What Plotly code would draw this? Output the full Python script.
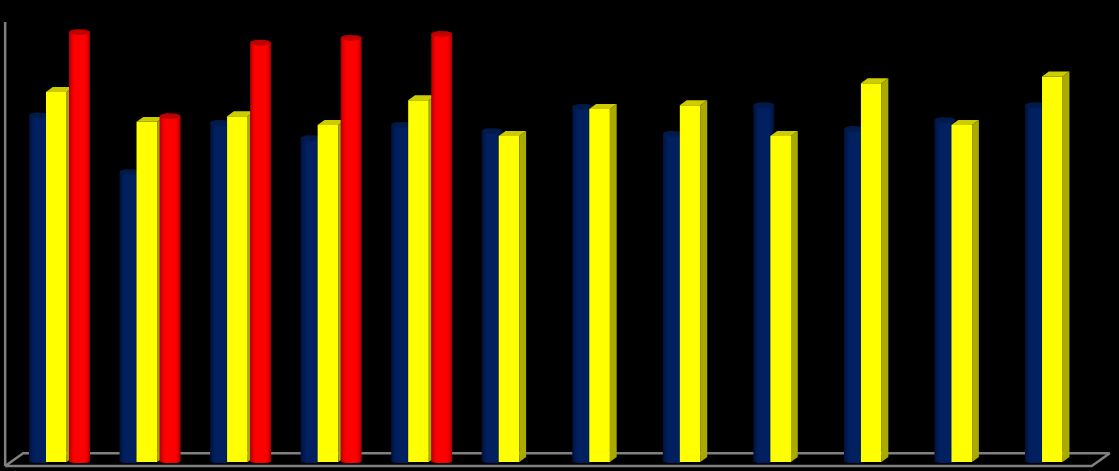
"""
Grouped 3D-look columns on a black background: navy and red cylinders,
yellow boxes, standing on a grey floor.
"""
import numpy as np
import plotly.graph_objects as go

GROUPS = list(range(12))
NAVY_VALUES = [78.8, 65.9, 77.1, 73.6, 76.6, 75.2, 80.7, 74.6, 81.1, 75.7, 77.7, 81.1]
YELLOW_VALUES = [84.1, 77.3, 78.6, 76.6, 82.2, 74.1, 80.2, 81.1, 74.1, 86.1, 76.6, 87.6]
RED_VALUES = [97.7, 78.6, 95.3, 96.4, 97.3]

NAVY_SHADES = ['#00123a', '#001643', '#00194c', '#001c55', '#001e5b', '#002060']
RED_SHADES = ['#a80000', '#c00000', '#d60000', '#e80000', '#f60000', '#ff0000']
SHADE_WIDTHS = [1, 0.92, 0.84, 0.74, 0.64, 0.52]

# one group is 90.55 px wide and one value unit is 4.4 px tall
PX_X = 1 / 90.55
PX_Y = 1 / 4.4
BAR_WIDTH = 21 * PX_X
NAVY_OFFSET = -20 * PX_X
YELLOW_OFFSET = -3.2 * PX_X
RED_OFFSET = 20 * PX_X
DEPTH_X = 6.8 * PX_X
DEPTH_Y = 5 * PX_Y


def ellipses(centers, values, width, height, half=False):
    """
    Returns x and y lists of one ellipse per bar, split by None so they
    fill as separate shapes in a single trace.
    """
    end = np.pi if half else 2 * np.pi
    angles = np.linspace(0, end, 25)
    xs, ys = [], []
    for center, value in zip(centers, values):
        xs += list(center + width / 2 * np.cos(angles)) + [None]
        ys += list(value - height / 2 * np.sin(angles)) + [None]
    return xs, ys


def add_polygon(fig, xs, ys, color, zorder):
    """
    Adds filled shapes in data coordinates with no outline.
    """
    fig.add_scatter(x=xs, y=ys, mode='lines', fill='toself', fillcolor=color,
                    line=dict(width=0, color=color), hoverinfo='skip',
                    showlegend=False, zorder=zorder)


def add_cylinders(fig, values, offset, shades, cap_color, zorder):
    """
    Draws one series as cylinders: nested bars of lighter shades for
    the round look, a rounded bottom and a dark top ellipse.
    """
    centers = [GROUPS[i] + offset for i in range(len(values))]
    for shade, share in zip(shades, SHADE_WIDTHS):
        width = BAR_WIDTH * share
        fig.add_bar(x=centers, y=values, width=width, marker_color=shade,
                    marker_line_width=0, showlegend=False, zorder=zorder)
        xs, ys = ellipses(centers, [0] * len(values), width,
                          1.6 * PX_Y, half=True)
        add_polygon(fig, xs, ys, shade, zorder)
    xs, ys = ellipses(centers, values, BAR_WIDTH, 6 * PX_Y)
    add_polygon(fig, xs, ys, cap_color, zorder)


def add_boxes(fig, values, offset, zorder):
    """
    Draws one series as boxes: a front bar, plus a darker top and side
    built from the same values.
    """
    centers = [GROUPS[i] + offset for i in range(len(values))]
    width = 20.6 * PX_X
    top_x, top_y, side_x, side_y = [], [], [], []
    for center, value in zip(centers, values):
        left = center - width / 2
        right = center + width / 2
        top_x += [left, left + DEPTH_X, right + DEPTH_X, right, None]
        top_y += [value, value + DEPTH_Y, value + DEPTH_Y, value, None]
        side_x += [right, right + DEPTH_X, right + DEPTH_X, right, None]
        side_y += [value, value + DEPTH_Y, DEPTH_Y, 0, None]
    fig.add_bar(x=centers, y=values, width=width, marker_color='#ffff00',
                marker_line_width=0, showlegend=False, zorder=zorder)
    add_polygon(fig, top_x, top_y, '#cccc00', zorder)
    add_polygon(fig, side_x, side_y, '#aaaa00', zorder)


def add_floor(fig):
    """
    Draws the grey floor outline and the back wall edge.
    """
    x_min, x_max = -0.6, 11.4
    front = -0.9
    back = 2.0
    skew = 18 * PX_X
    floor_x = [x_min, x_min + skew, x_max + skew, x_max, x_min]
    floor_y = [front, back, back, front, front]
    fig.add_scatter(x=floor_x, y=floor_y, mode='lines', hoverinfo='skip',
                    line=dict(color='#808080', width=2.5), showlegend=False,
                    zorder=0)
    fig.add_scatter(x=[x_min, x_min], y=[front, 100], mode='lines',
                    hoverinfo='skip', showlegend=False, zorder=0,
                    line=dict(color='#808080', width=2.5))


fig = go.Figure()
add_floor(fig)
add_cylinders(fig, NAVY_VALUES, NAVY_OFFSET, NAVY_SHADES, '#001a4a', 1)
add_boxes(fig, YELLOW_VALUES, YELLOW_OFFSET, 2)
add_cylinders(fig, RED_VALUES, RED_OFFSET, RED_SHADES, '#c00000', 3)

fig.update_layout(
    width=1119,
    height=471,
    margin=dict(l=0, r=0, t=0, b=0),
    paper_bgcolor='black',
    plot_bgcolor='black',
    barmode='overlay',
    showlegend=False
)
fig.update_xaxes(range=[-0.657, 11.701], visible=False)
fig.update_yaxes(range=[-2.05, 105], visible=False)
fig.write_html("out.html", config=dict(displayModeBar=False),
               post_script="document.body.style.margin='0';")
